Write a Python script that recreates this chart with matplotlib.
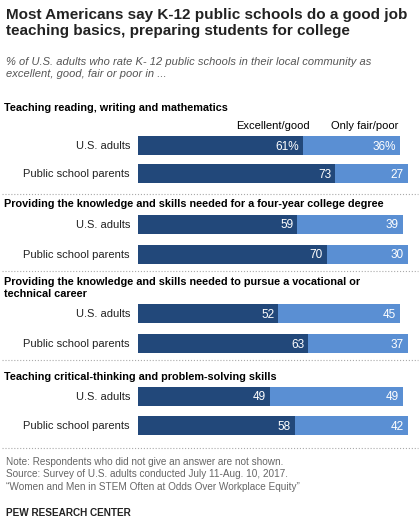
import matplotlib.pyplot as plt

plt.rcParams['font.family'] = ['Liberation Sans', 'DejaVu Sans']

groups = ["Teaching reading, writing and mathematics",
          "Providing the knowledge and skills needed for a four-year college degree",
          "Providing the knowledge and skills needed to pursue a vocational or\ntechnical career",
          "Teaching critical-thinking and problem-solving skills"]
rows = ["U.S. adults", "Public school parents"]
good = [[61, 73], [59, 70], [52, 63], [49, 58]]
poor = [[36, 27], [39, 30], [45, 37], [49, 42]]

dark = "#22487A"
light = "#5A8FD3"

W, H = 420, 530
fig = plt.figure(figsize=(W / 100, H / 100), dpi=100)
x0, x1 = 138, 408
ax = fig.add_axes([x0 / W, 0, (x1 - x0) / W, 1])
ax.set_xlim(0, 100)
ax.set_ylim(H, 0)
ax.axis("off")

def px(x):
    return (x - x0) / (x1 - x0) * 100

header_y = [108, 204, 288, 377]
row_y = [[145, 173], [224, 254], [313, 343], [396, 425]]
sep_y = [194, 271, 360]

for g, name in enumerate(groups):
    ax.text(px(4), header_y[g], name, fontsize=7.8, fontweight="bold", va="center",
            ha="left", clip_on=False, linespacing=1.2)
    for r, lab in enumerate(rows):
        y = row_y[g][r]
        ax.barh(y, good[g][r], height=19, color=dark)
        ax.barh(y, poor[g][r], left=good[g][r], height=19, color=light)
        pct = "%" if (g == 0 and r == 0) else ""
        ax.text(good[g][r] - 1.5, y, f"{good[g][r]}{pct}", color="white", ha="right",
                va="center_baseline", fontsize=8.5)
        ax.text(good[g][r] + poor[g][r] - 1.5, y, f"{poor[g][r]}{pct}", color="white",
                ha="right", va="center_baseline", fontsize=8.5)
        ax.text(-3, y, lab, ha="right", va="center_baseline", fontsize=8, color="#222222",
                clip_on=False)
for y in sep_y + [448]:
    ax.plot([px(2), px(418)], [y, y], ls=":", color="#aaaaaa", lw=0.8, clip_on=False)

ax.text(50, 126, "Excellent/good", ha="center", va="center", fontsize=8, clip_on=False)
ax.text(84, 126, "Only fair/poor", ha="center", va="center", fontsize=8, clip_on=False)

fig.text(6 / W, 1 - 8 / H, "Most Americans say K-12 public schools do a good job\nteaching basics, preparing students for college",
         fontsize=11, fontweight="bold", va="top", ha="left", linespacing=1.2, color="#222222")
fig.text(6 / W, 1 - 57 / H, "% of U.S. adults who rate K- 12 public schools in their local community as\nexcellent, good, fair or poor in ...",
         fontsize=8, style="italic", va="top", ha="left", color="#555555", linespacing=1.3)
fig.text(6 / W, 1 - 457 / H, "Note: Respondents who did not give an answer are not shown.\nSource: Survey of U.S. adults conducted July 11-Aug. 10, 2017.\n\u201cWomen and Men in STEM Often at Odds Over Workplace Equity\u201d",
         fontsize=7.2, va="top", ha="left", color="#666666", linespacing=1.3)
fig.text(6 / W, 1 - 508 / H, "PEW RESEARCH CENTER", fontsize=7.2, fontweight="bold",
         va="top", ha="left", color="#222222")

fig.savefig("out.png", dpi=100)
